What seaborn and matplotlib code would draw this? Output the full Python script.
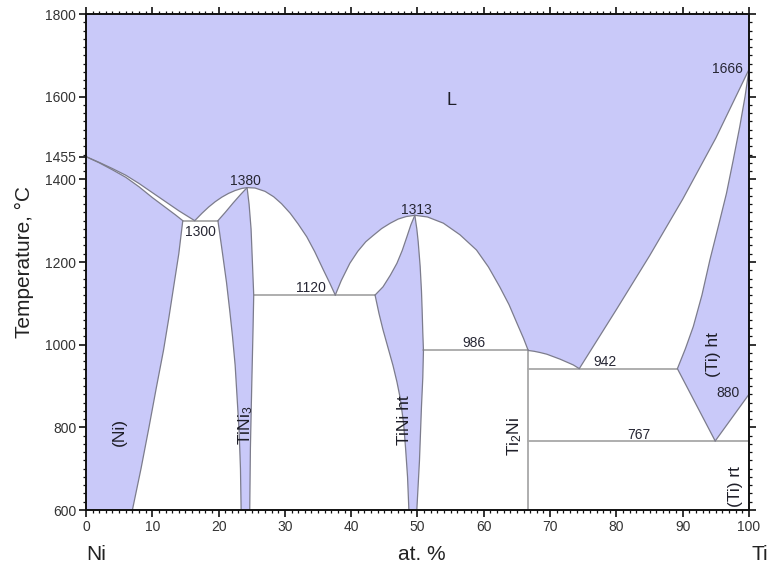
import numpy as np
import matplotlib
matplotlib.use("Agg")
import matplotlib.pyplot as plt
from matplotlib.ticker import MultipleLocator, FixedLocator
import seaborn as sns

# Ni-Ti phase boundaries: composition in at.% Ti, temperature in degrees C
ni_liq_x = [0, 2, 4, 6, 8, 10, 12, 14, 16.4]
ni_liq_t = [1455, 1441, 1426, 1410, 1390, 1368, 1346, 1324, 1300]
ni_sol_x = [0, 2, 4, 6, 8, 10, 12, 13.5, 14.6]
ni_sol_t = [1455, 1440, 1423, 1405, 1382, 1356, 1332, 1314, 1300]
ni_solvus_x = [14.6, 14.0, 13.3, 12.5, 11.7, 10.6, 9.5, 8.3, 7.0]
ni_solvus_t = [1300, 1220, 1148, 1065, 987, 895, 800, 700, 600]

tini3_liq_l_x = [16.4, 17.5, 18.5, 19.5, 20.5, 21.5, 22.5, 23.5, 24.3]
tini3_liq_l_t = [1300, 1318, 1333, 1346, 1357, 1366, 1373, 1378, 1380]
tini3_sol_l_x = [19.9, 21.0, 22.2, 23.3, 24.3]
tini3_sol_l_t = [1300, 1320, 1343, 1363, 1380]
tini3_left_x = [19.9, 20.6, 21.2, 21.7, 22.1, 22.5, 22.8, 23.1, 23.3, 23.4]
tini3_left_t = [1300, 1220, 1150, 1080, 1020, 950, 870, 790, 700, 600]
tini3_right_x = [24.3, 24.6, 24.9, 25.1, 25.3, 25.2, 25.0, 24.8, 24.7]
tini3_right_t = [1380, 1340, 1280, 1200, 1120, 1040, 900, 750, 600]
tini3_liq_r_x = [24.3, 25.5, 27.0, 28.3, 29.5, 30.8, 32.0, 33.3, 34.5, 35.8,
                 36.8, 37.6]
tini3_liq_r_t = [1380, 1379, 1371, 1358, 1341, 1318, 1292, 1261, 1225, 1181,
                 1148, 1120]

tini_liq_l_x = [37.6, 38.5, 39.8, 41.0, 42.2, 43.3, 44.6, 45.9, 47.1, 48.3, 49.6]
tini_liq_l_t = [1120, 1155, 1197, 1226, 1249, 1264, 1281, 1294, 1304, 1310, 1313]
tini_sol_l_x = [43.6, 44.8, 45.9, 46.9, 47.7, 48.4, 49.0, 49.6]
tini_sol_l_t = [1120, 1140, 1168, 1197, 1228, 1261, 1290, 1313]
tini_left_x = [43.6, 44.2, 44.8, 45.6, 46.3, 46.9, 47.4, 47.9, 48.2, 48.5, 48.7]
tini_left_t = [1120, 1075, 1036, 990, 950, 910, 870, 810, 750, 680, 600]
tini_right_x = [49.6, 49.9, 50.1, 50.4, 50.6, 50.7, 50.8, 50.9, 50.8, 50.6,
                50.3, 49.9]
tini_right_t = [1313, 1280, 1250, 1190, 1130, 1084, 1030, 986, 920, 850, 720, 600]
tini_liq_r_x = [49.6, 51.5, 53.9, 56.4, 58.9, 60.7, 62.4, 63.8, 65.0, 66.0, 66.7]
tini_liq_r_t = [1313, 1309, 1294, 1266, 1229, 1188, 1140, 1097, 1052, 1015, 986]

ti2ni_liq_x = [66.7, 67.6, 68.5, 69.5, 70.5, 71.5, 72.5, 73.5, 74.4]
ti2ni_liq_t = [986, 984, 981, 977, 971, 965, 958, 951, 942]
ti_liq_x = [74.4, 80.0, 85.0, 90.0, 95.0, 100.0]
ti_liq_t = [942, 1085, 1215, 1352, 1500, 1666]
ti_sol_x = [89.2, 90.4, 91.6, 92.9, 94.1, 95.4, 96.6, 97.6, 98.6, 99.4, 100.0]
ti_sol_t = [942, 990, 1044, 1120, 1205, 1288, 1366, 1445, 1527, 1600, 1666]
ti_ht_low_x = [89.2, 94.9]
ti_ht_low_t = [942, 767]
ti_ht_rt_x = [94.9, 100.0]
ti_ht_rt_t = [767, 880]

# invariant reactions: temperature, x from, x to
invariants_t = [1300, 1120, 986, 942, 767]
invariants_x0 = [14.6, 25.3, 50.9, 66.7, 66.7]
invariants_x1 = [19.9, 43.6, 66.7, 89.2, 100.0]
ti2ni_x = 66.7

# temperature annotations
value_text = ["1380", "1300", "1120", "1313", "986", "942", "767", "880", "1666"]
value_x = [24.1, 17.2, 33.9, 49.8, 58.5, 78.3, 83.4, 96.9, 96.7]
value_t = [1396, 1273, 1137, 1327, 1003, 957, 782, 883, 1666]

# phase names
phase_text = ["L", "(Ni)", "TiNi$\\mathregular{_3}$", "TiNi ht",
              "Ti$\\mathregular{_2}$Ni", "(Ti) ht", "(Ti) rt"]
phase_x = [55.1, 5.1, 24.1, 48.0, 64.6, 94.6, 97.9]
phase_t = [1590, 789, 806, 818, 777, 975, 656]
phase_rot = [0, 90, 90, 90, 90, 90, 90]

y_major = [600, 800, 1000, 1200, 1400, 1455, 1600, 1800]
x_major = [0, 10, 20, 30, 40, 50, 60, 70, 80, 90, 100]

sns.set_theme(style="ticks")
plt.rcParams["font.family"] = ["Liberation Sans", "DejaVu Sans"]
plt.rcParams["mathtext.fontset"] = "custom"
plt.rcParams["mathtext.rm"] = "Liberation Sans"

single_phase = "#c9c9f9"
edge = "#7c7c8c"
inv_color = "#a8a8a8"
txt = "#262633"

fig = plt.figure(figsize=(7.69, 5.65), dpi=100)
ax = fig.add_axes([0.1118, 0.0973, 0.8622, 0.8779])
ax.set_facecolor(single_phase)


def poly(*parts):
    xs, ts = [], []
    for px, pt in parts:
        xs.extend(px)
        ts.extend(pt)
    return xs, ts


def rev(a):
    return list(a)[::-1]


# two-phase fields in white
fields = [
    poly((ni_liq_x, ni_liq_t), (rev(ni_sol_x), rev(ni_sol_t))),
    poly((ni_solvus_x, ni_solvus_t), (rev(tini3_left_x), rev(tini3_left_t))),
    poly((tini3_liq_l_x, tini3_liq_l_t), (rev(tini3_sol_l_x), rev(tini3_sol_l_t))),
    poly((tini3_right_x, tini3_right_t), (rev(tini_left_x), rev(tini_left_t)),
         (rev(tini3_liq_r_x), rev(tini3_liq_r_t))),
    poly((tini_liq_l_x, tini_liq_l_t), (rev(tini_sol_l_x), rev(tini_sol_l_t))),
    poly((tini_right_x, tini_right_t), ([ti2ni_x, ti2ni_x], [600, 986]),
         (rev(tini_liq_r_x), rev(tini_liq_r_t))),
    poly((ti2ni_liq_x, ti2ni_liq_t), (ti_liq_x, ti_liq_t),
         (rev(ti_sol_x), rev(ti_sol_t)), (ti_ht_rt_x, ti_ht_rt_t),
         ([100, ti2ni_x], [600, 600])),
]
for fx, ft in fields:
    ax.fill(fx, ft, color="white", lw=0, zorder=1)

# phase boundaries
curves = [
    (ni_liq_x, ni_liq_t), (ni_sol_x, ni_sol_t), (ni_solvus_x, ni_solvus_t),
    (tini3_liq_l_x, tini3_liq_l_t), (tini3_sol_l_x, tini3_sol_l_t),
    (tini3_left_x, tini3_left_t), (tini3_right_x, tini3_right_t),
    (tini3_liq_r_x, tini3_liq_r_t), (tini_liq_l_x, tini_liq_l_t),
    (tini_sol_l_x, tini_sol_l_t), (tini_left_x, tini_left_t),
    (tini_right_x, tini_right_t), (tini_liq_r_x, tini_liq_r_t),
    (ti2ni_liq_x, ti2ni_liq_t), (ti_liq_x, ti_liq_t), (ti_sol_x, ti_sol_t),
    (ti_ht_low_x, ti_ht_low_t), (ti_ht_rt_x, ti_ht_rt_t),
]
for cx, ct in curves:
    sns.lineplot(x=cx, y=ct, sort=False, estimator=None, ax=ax,
                 color=edge, lw=0.9, zorder=3)

for t, x0, x1 in zip(invariants_t, invariants_x0, invariants_x1):
    sns.lineplot(x=[x0, x1], y=[t, t], sort=False, estimator=None, ax=ax,
                 color=inv_color, lw=1.3, zorder=2)
sns.lineplot(x=[ti2ni_x, ti2ni_x], y=[600, 986], sort=False, estimator=None,
             ax=ax, color=inv_color, lw=1.3, zorder=2)

for s, x, t in zip(value_text, value_x, value_t):
    ax.text(x, t, s, ha="center", va="center", fontsize=10, color=txt, zorder=5)

for s, x, t, r in zip(phase_text, phase_x, phase_t, phase_rot):
    ax.text(x, t, s, ha="center", va="center", rotation=r,
            fontsize=12.5 if r else 13, color="#1e1e28", zorder=5)

ax.set_xlim(0, 100)
ax.set_ylim(600, 1800)
ax.xaxis.set_major_locator(FixedLocator(x_major))
ax.xaxis.set_minor_locator(MultipleLocator(1))
ax.yaxis.set_major_locator(FixedLocator(y_major))
ax.yaxis.set_minor_locator(MultipleLocator(20))
ax.tick_params(which="both", direction="out", top=True, right=True,
               labeltop=False, labelright=False, colors="#111111",
               labelcolor="#333333", labelsize=10)
ax.tick_params(which="major", length=5, width=1.2, pad=2)
ax.tick_params(which="minor", length=2.5, width=0.9)
for sp in ax.spines.values():
    sp.set_visible(True)
    sp.set_color("#111111")
    sp.set_linewidth(1.4)
    sp.set_zorder(6)

ax.set_xlabel("")
ax.set_ylabel("Temperature, °C", fontsize=15, color="#222222", labelpad=8)
ax.text(0.0, -0.089, "Ni", transform=ax.transAxes, ha="left", va="center",
        fontsize=15, color="#222222")
ax.text(0.507, -0.089, "at. %", transform=ax.transAxes, ha="center",
        va="center", fontsize=15, color="#222222")
ax.text(1.029, -0.089, "Ti", transform=ax.transAxes, ha="right",
        va="center", fontsize=15, color="#222222")

fig.savefig("out.png", dpi=100)
